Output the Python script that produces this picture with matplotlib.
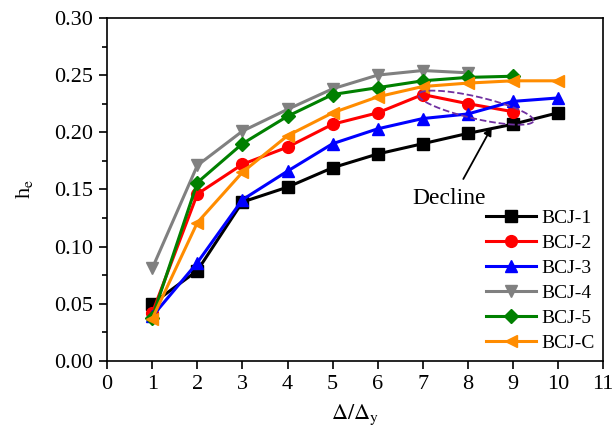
import numpy as np
import matplotlib
matplotlib.use("Agg")
from matplotlib import pyplot as plt
from matplotlib.ticker import MultipleLocator

plt.rcParams["font.family"] = ["Liberation Serif", "DejaVu Serif"]
plt.rcParams["mathtext.fontset"] = "stix"

x_bcj1 = [1, 2, 3, 4, 5, 6, 7, 8, 9, 10]
y_bcj1 = [0.050, 0.079, 0.139, 0.152, 0.169, 0.181, 0.190, 0.199, 0.207, 0.217]
x_bcj2 = [1, 2, 3, 4, 5, 6, 7, 8, 9]
y_bcj2 = [0.042, 0.146, 0.172, 0.187, 0.207, 0.217, 0.233, 0.225, 0.218]
x_bcj3 = [1, 2, 3, 4, 5, 6, 7, 8, 9, 10]
y_bcj3 = [0.039, 0.086, 0.141, 0.166, 0.190, 0.203, 0.212, 0.216, 0.227, 0.230]
x_bcj4 = [1, 2, 3, 4, 5, 6, 7, 8]
y_bcj4 = [0.081, 0.171, 0.201, 0.220, 0.238, 0.250, 0.254, 0.252]
x_bcj5 = [1, 2, 3, 4, 5, 6, 7, 8, 9]
y_bcj5 = [0.038, 0.156, 0.190, 0.214, 0.233, 0.239, 0.245, 0.248, 0.249]
x_bcjc = [1, 2, 3, 4, 5, 6, 7, 8, 9, 10]
y_bcjc = [0.037, 0.121, 0.165, 0.197, 0.217, 0.231, 0.240, 0.243, 0.245, 0.245]

series = [
    ("BCJ-1", x_bcj1, y_bcj1, "black", "s"),
    ("BCJ-2", x_bcj2, y_bcj2, "red", "o"),
    ("BCJ-3", x_bcj3, y_bcj3, "blue", "^"),
    ("BCJ-4", x_bcj4, y_bcj4, "gray", "v"),
    ("BCJ-5", x_bcj5, y_bcj5, "green", "D"),
    ("BCJ-C", x_bcjc, y_bcjc, "darkorange", "<"),
]

fig = plt.figure(figsize=(6.16, 4.37), dpi=100)
ax = fig.add_axes([0.174, 0.174, 0.805, 0.785])

for name, xs, ys, col, mk in series:
    ms = 7 if mk == "D" else 8.5
    ax.plot(xs, ys, color=col, marker=mk, ms=ms, lw=2.2, label=name)

ax.set_xlim(0, 11)
ax.set_ylim(0, 0.30)
ax.xaxis.set_major_locator(MultipleLocator(1))
ax.yaxis.set_major_locator(MultipleLocator(0.05))
ax.yaxis.set_minor_locator(MultipleLocator(0.025))
ax.yaxis.set_major_formatter(plt.FormatStrFormatter("%.2f"))
ax.tick_params(which="both", direction="out", labelsize=16, width=1.2)
ax.tick_params(which="major", length=6, pad=4)
ax.tick_params(which="minor", length=3.5)
for sp in ax.spines.values():
    sp.set_linewidth(1.2)

ax.set_xlabel(r"$\Delta/\Delta_\mathrm{y}$", fontsize=16, labelpad=6)
ax.set_ylabel(r"h$_\mathrm{e}$", fontsize=16, labelpad=14)

# dashed ellipse around the decline of BCJ-2 (drawn in pixel space)
xpx = 0.805 * 616 / 11
ypx = 0.785 * 437 / 0.30
t = np.linspace(0, 2 * np.pi, 200)
ang = np.deg2rad(-13)
a, b = 59, 11
ex = a * np.cos(t) * np.cos(ang) - b * np.sin(t) * np.sin(ang)
ey = a * np.cos(t) * np.sin(ang) + b * np.sin(t) * np.cos(ang)
ax.plot(8.18 + ex / xpx, 0.2215 + ey / ypx, color="#7030a0", ls="--", lw=1.3)

ax.annotate("", xy=(8.56, 0.2065), xytext=(7.87, 0.157),
            arrowprops=dict(arrowstyle="-|>", color="black", lw=1.3, mutation_scale=12))
ax.text(7.58, 0.1425, "Decline", fontsize=17, ha="center", va="center")

ax.legend(loc="lower right", frameon=False, fontsize=14, handlelength=2.6,
          labelspacing=0.38, borderaxespad=0.05, handletextpad=0.25)

fig.savefig("out.png", dpi=100)
